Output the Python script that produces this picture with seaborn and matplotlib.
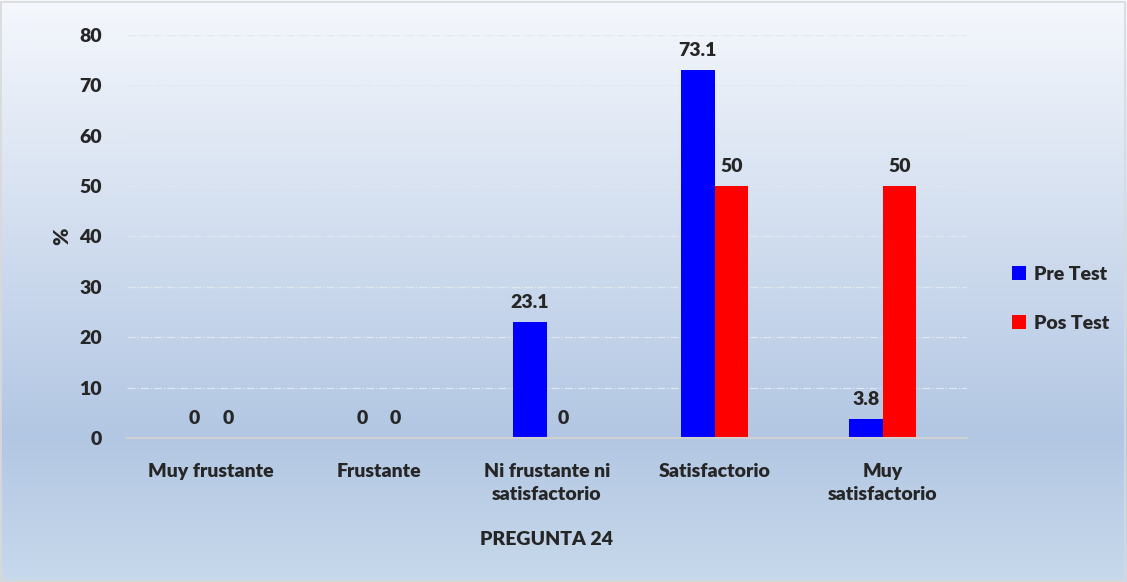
import numpy as np
import pandas as pd
import matplotlib.pyplot as plt
import seaborn as sns

# data
categories = ["Muy frustante", "Frustante", "Ni frustante ni\nsatisfactorio",
              "Satisfactorio", "Muy\nsatisfactorio"]
pre_test = [0, 0, 23.1, 73.1, 3.8]
pos_test = [0, 0, 0, 50, 50]
series = ["Pre Test", "Pos Test"]
colors = ["#0000ff", "#ff0000"]

df = pd.DataFrame({
    "cat": categories * 2,
    "val": pre_test + pos_test,
    "serie": [series[0]] * 5 + [series[1]] * 5,
})

sns.set_style("white")
plt.rcParams["font.family"] = ["Lato", "DejaVu Sans"]
plt.rcParams["font.weight"] = "heavy"

FS = 14

fig = plt.figure(figsize=(11.27, 5.82), dpi=100)

# gradient background
bg = fig.add_axes([0, 0, 1, 1], zorder=-10)
top = np.array([0.96, 0.97, 0.99])
mid = np.array([0.70, 0.78, 0.89])
bot = np.array([0.78, 0.85, 0.92])
t = np.linspace(0, 1, 300)[:, None]
grad = np.where(t < 0.75, top + (mid - top) * (t / 0.75),
                mid + (bot - mid) * ((t - 0.75) / 0.25))
bg.imshow(grad[:, None, :], aspect="auto", extent=[0, 1, 0, 1])
bg.set_axis_off()
fig.patches.append(plt.Rectangle((0.001, 0.002), 0.997, 0.995, transform=fig.transFigure,
                                 fill=False, edgecolor="#d9d9d9", lw=1.2))

ax = fig.add_axes([0.1127, 0.2474, 0.745, 0.6925])
ax.patch.set_alpha(0)

sns.barplot(data=df, x="cat", y="val", hue="serie", palette=colors,
            width=0.4, gap=0, saturation=1, ax=ax, legend=True,
            linewidth=0, edgecolor="none")

for cont, vals in zip(ax.containers, [pre_test, pos_test]):
    labs = [f"{v:g}" for v in vals]
    ax.bar_label(cont, labels=labs, padding=8, fontsize=FS, fontweight="heavy")

ax.set_ylim(0, 80)
ax.set_yticks(range(0, 81, 10))
ax.set_xlim(-0.5, 4.5)
ax.yaxis.grid(True, linestyle="-.", color="#dfe7f1", lw=0.9)
ax.set_axisbelow(True)
for s in ["top", "right", "left"]:
    ax.spines[s].set_visible(False)
ax.spines["bottom"].set_color("#d0d0d0")
ax.spines["bottom"].set_linewidth(1.5)

ax.tick_params(axis="both", length=0, labelsize=FS)
ax.tick_params(axis="x", pad=18)
ax.tick_params(axis="y", pad=18)
for lab in ax.get_xticklabels() + ax.get_yticklabels():
    lab.set_fontweight("heavy")
for lab in ax.get_xticklabels():
    lab.set_linespacing(1.45)

ax.set_xlabel("PREGUNTA 24", fontsize=FS, fontweight="heavy", labelpad=20)
ax.set_ylabel("%", fontsize=FS + 1, fontweight="heavy", labelpad=6)

ax.legend(loc="center left", bbox_to_anchor=(1.033, 0.345), frameon=False,
          handlelength=0.75, handleheight=0.75, labelspacing=1.65,
          handletextpad=0.4, prop={"weight": "heavy", "size": FS})

fig.savefig("out.png", dpi=100)
